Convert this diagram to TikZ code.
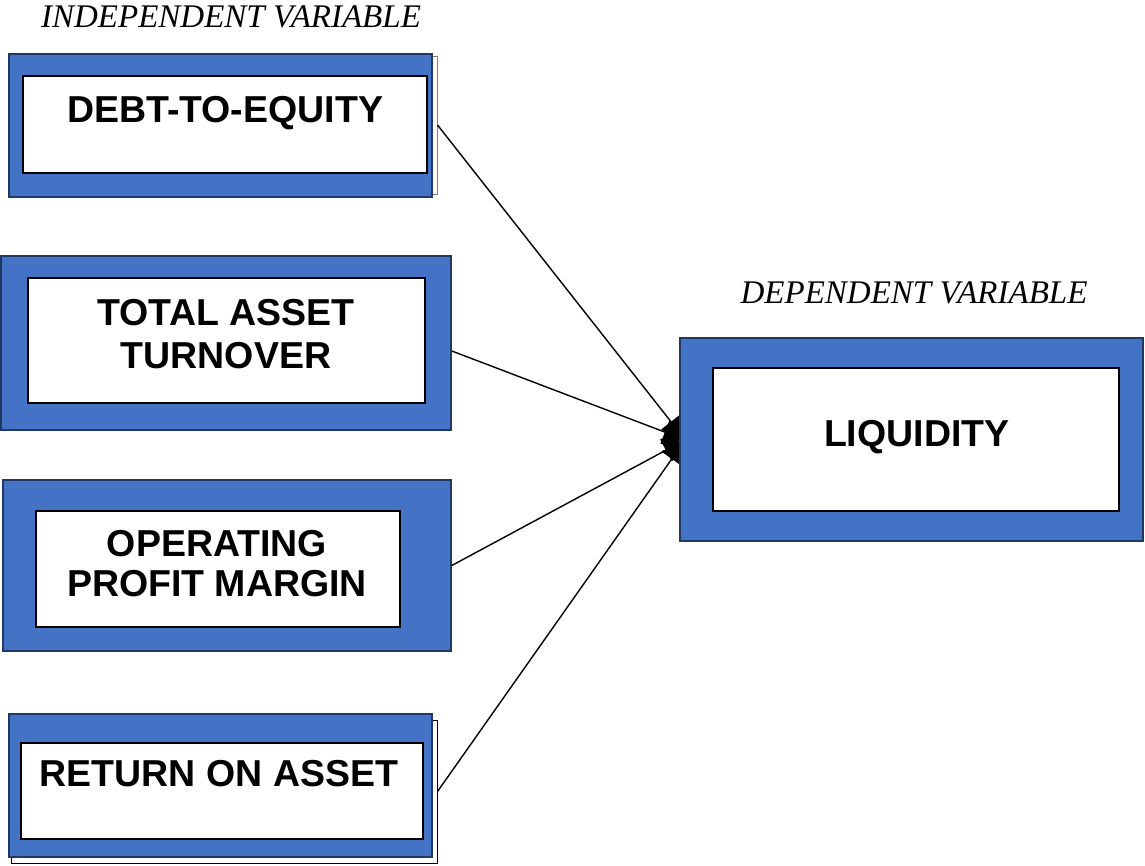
\documentclass[tikz,border=0pt]{standalone}
\usepackage{fontspec}
\setmainfont{Liberation Sans}
\newfontfamily\labelfont{Liberation Serif}
\usetikzlibrary{arrows.meta,calc}
\definecolor{boxblue}{HTML}{4472C4}
\definecolor{boxedge}{HTML}{1F3864}
\tikzset{
  outerbox/.style={draw=boxedge, line width=1.6pt, fill=boxblue, inner sep=0pt},
  innerbox/.style={draw=black, line width=1.2pt, fill=white, inner sep=0pt},
  shadowbox/.style={draw=#1, line width=1pt, fill=white, inner sep=0pt},
  boxtext/.style={font=\bfseries\fontsize{37.5}{40}\selectfont, align=center, inner sep=0pt},
  varlabel/.style={font=\labelfont\itshape\fontsize{33}{36}\selectfont, inner sep=0pt, anchor=base},
  link/.style={line width=1.4pt, -{Triangle[length=20pt,width=26pt,round]}}
}
\begin{document}
\begin{tikzpicture}[x=1pt,y=-1pt]
\useasboundingbox (0,0) rectangle (1145,865);
\fill[white] (0,0) rectangle (1145,865);

% labels
\node[varlabel] (indep) at (231,27) {INDEPENDENT VARIABLE};
\node[varlabel] (dep) at (914,303) {DEPENDENT VARIABLE};

% box 1
\node[shadowbox=gray, minimum width=423, minimum height=138] (s1) at (225.5,125) {};
\node[outerbox, minimum width=423, minimum height=143] (o1) at (220.5,125.5) {};
\node[innerbox, minimum width=404, minimum height=97] (i1) at (225,124.5) {};
\node[boxtext, anchor=base] (t1) at (225,122.7) {DEBT-TO-EQUITY};

% box 2
\node[outerbox, minimum width=450, minimum height=174] (o2) at (226,343) {};
\node[innerbox, minimum width=397, minimum height=125] (i2) at (226.5,340.5) {};
\node[boxtext, font=\bfseries\fontsize{37.5}{43}\selectfont] (t2) at (226,334) {TOTAL ASSET\\TURNOVER};

% box 3
\node[outerbox, minimum width=448, minimum height=171] (o3) at (227,565.5) {};
\node[innerbox, minimum width=364, minimum height=116] (i3) at (218,569) {};
\node[boxtext, font=\bfseries\fontsize{37.5}{40}\selectfont] (t3) at (217,564) {OPERATING\\PROFIT MARGIN};

% box 4
\node[shadowbox=black, minimum width=426, minimum height=143] (s4) at (224,791.5) {};
\node[outerbox, minimum width=423, minimum height=143] (o4) at (220.5,785.5) {};
\node[innerbox, minimum width=402, minimum height=96] (i4) at (222,791) {};
\node[boxtext, anchor=base] (t4) at (219,786) {RETURN ON ASSET};

% end point on the left side of the dependent box
\coordinate (Lw) at (683,440);

% connectors
\draw[link] (s1.east) -- ($(Lw)+(0,-3)$);
\draw[link] ($(o2.east)+(0,8)$) -- ($(Lw)+(0,-1)$);
\draw[link] (o3.east) -- ($(Lw)+(0,1)$);
\draw[link] (s4.east) -- ($(Lw)+(0,3)$);

% dependent box
\node[outerbox, minimum width=463, minimum height=203] (L) at (911.5,439.5) {};
\node[innerbox, minimum width=406, minimum height=143] (Li) at (916,439.5) {};
\node[boxtext, anchor=base] (Lt) at (916.7,446.7) {LIQUIDITY};
\end{tikzpicture}
\end{document}
